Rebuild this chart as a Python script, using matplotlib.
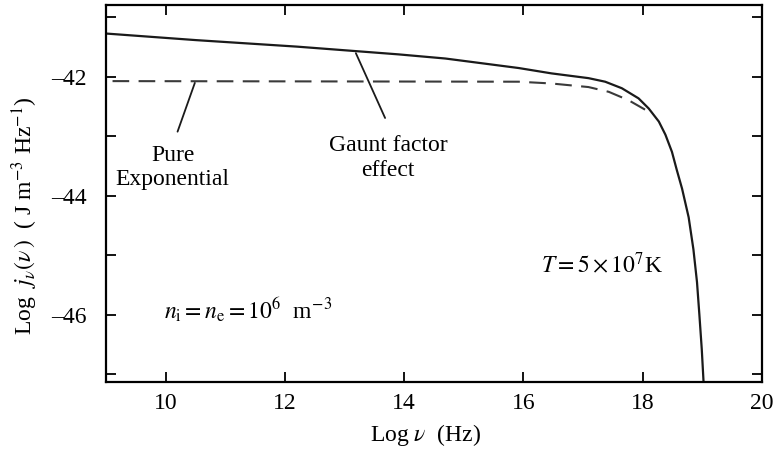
import numpy as np
import matplotlib.pyplot as plt
from matplotlib.ticker import MultipleLocator, FuncFormatter

plt.rcParams['font.family'] = ['Liberation Serif', 'DejaVu Serif']
plt.rcParams['mathtext.fontset'] = 'stix'
plt.rcParams['font.size'] = 17

# Gaunt factor curve (solid)
log_nu_gaunt = [9.0, 10.5, 12.2, 13.9, 14.69, 15.92, 16.47, 17.09, 17.37, 17.65,
                17.93, 18.10, 18.27, 18.38, 18.49, 18.57, 18.66, 18.77, 18.85,
                18.91, 18.95, 18.99, 19.02]
log_j_gaunt = [-41.27, -41.38, -41.49, -41.62, -41.69, -41.85, -41.94, -42.02,
               -42.08, -42.19, -42.36, -42.53, -42.75, -42.97, -43.26, -43.56,
               -43.88, -44.36, -44.90, -45.45, -46.00, -46.58, -47.13]

# pure exponential (dashed)
log_nu_exp = [9.11, 15.92, 16.47, 17.09, 17.43, 17.76, 18.04, 18.12]
log_j_exp = [-42.07, -42.08, -42.11, -42.17, -42.25, -42.39, -42.55, -42.62]

fig = plt.figure(figsize=(7.77, 4.5), dpi=100)
ax = fig.add_axes([0.1364, 0.1511, 0.8443, 0.8378])

ax.plot(log_nu_gaunt, log_j_gaunt, color='#1a1a1a', lw=1.6)
ax.plot(log_nu_exp, log_j_exp, color='#3a3a3a', lw=1.5, dashes=(8, 4.5))

ax.set_xlim(9, 20)
ax.set_ylim(-47.13, -40.79)
ax.xaxis.set_major_locator(MultipleLocator(2))
ax.yaxis.set_major_locator(MultipleLocator(1))
ax.yaxis.set_major_formatter(FuncFormatter(
    lambda v, p: ('\u2013%d' % abs(round(v))) if round(v) % 2 == 0 else ''))
ax.tick_params(direction='in', length=7, width=1.3, top=True, right=True,
               labelsize=17)
ax.tick_params(axis='x', pad=8)
ax.tick_params(axis='y', pad=14)
for s in ax.spines.values():
    s.set_linewidth(1.6)

ax.set_xlabel(r'Log $\nu$  (Hz)', fontsize=17)
ax.xaxis.set_label_coords(0.487, -0.105)
ax.set_ylabel(r'Log  $j_\nu(\nu\,)$  ( J m$^{-3}$ Hz$^{-1}$)', fontsize=17)
ax.yaxis.set_label_coords(-0.10, 0.44)

# labels with pointer lines
ax.annotate('', xy=(10.49, -42.10), xytext=(10.2, -42.92),
            arrowprops=dict(arrowstyle='-', color='#1a1a1a', lw=1.3,
                            shrinkA=0, shrinkB=0))
ax.text(10.12, -43.52, 'Pure\nExponential', ha='center', va='center',
        linespacing=1.2)
ax.annotate('', xy=(13.19, -41.60), xytext=(13.68, -42.69),
            arrowprops=dict(arrowstyle='-', color='#1a1a1a', lw=1.3,
                            shrinkA=0, shrinkB=0))
ax.text(13.73, -43.36, 'Gaunt factor\neffect', ha='center', va='center',
        linespacing=1.25)

ax.text(9.98, -45.92, r'$n_{\rm i} = n_{\rm e} = 10^6$  m$^{-3}$', ha='left',
        va='center')
ax.text(16.29, -45.16, r'$T = 5 \times 10^7$K', ha='left', va='center')

fig.savefig('out.png', dpi=100)
